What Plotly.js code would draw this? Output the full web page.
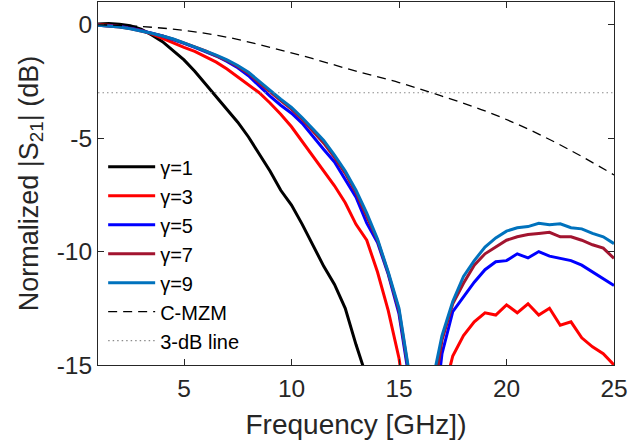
<!DOCTYPE html>
<html>
<head>
<meta charset="utf-8">
<script src="https://cdn.plot.ly/plotly-3.0.1.min.js"></script>
<style>html,body{margin:0;padding:0;background:#fff;}#chart{width:629px;height:442px;}</style>
</head>
<body>
<div id="chart"></div>
<script>
// Frequency grid (GHz)
const freq = [1,1.5,2,2.5,3,3.5,4,4.5,5,5.5,6,6.5,7,7.5,8,8.5,9,9.5,10,10.5,11,11.5,12,12.5,13,13.5,14,14.5,15,15.5,16,16.5,17,17.5,18,18.5,19,19.5,20,20.5,21,21.5,22,22.5,23,23.5,24,24.5,25];

// Normalized |S21| (dB) for each gamma
const g1 = [0.03,0.05,0.02,-0.05,-0.2,-0.45,-0.75,-1.15,-1.55,-2.05,-2.6,-3.15,-3.7,-4.3,-4.95,-5.7,-6.45,-7.3,-7.95,-8.8,-9.7,-10.65,-11.45,-12.5,-14.1,-15.6,-17,null,null,null,null,null,null,null,null,null,null,null,null,null,null,null,null,null,null,null,null,null,null];
const g3 = [0.0,-0.02,-0.08,-0.15,-0.25,-0.4,-0.6,-0.82,-1.0,-1.18,-1.4,-1.65,-1.95,-2.3,-2.68,-3.0,-3.45,-3.95,-4.5,-5.15,-5.8,-6.45,-7.1,-7.85,-8.8,-9.5,-10.9,-12.6,-14.7,-18,-25,-22,-16.5,-14.6,-13.7,-13.1,-12.7,-12.8,-12.35,-12.7,-12.3,-12.8,-12.5,-13.25,-13.1,-13.8,-14.2,-14.5,-15.0];
const g5 = [-0.02,-0.04,-0.08,-0.15,-0.25,-0.37,-0.5,-0.65,-0.82,-1.0,-1.18,-1.38,-1.62,-1.9,-2.25,-2.7,-3.15,-3.55,-3.9,-4.35,-4.95,-5.5,-6.05,-6.8,-7.6,-8.75,-9.6,-11.0,-12.75,-15.8,-24,-18.5,-14.5,-12.65,-12.0,-11.35,-10.8,-10.45,-10.4,-10.1,-10.28,-10.0,-10.2,-10.3,-10.4,-10.6,-10.9,-11.2,-11.5];
const g7 = [-0.02,-0.05,-0.1,-0.17,-0.27,-0.38,-0.5,-0.64,-0.8,-0.98,-1.16,-1.36,-1.58,-1.84,-2.15,-2.56,-2.97,-3.35,-3.72,-4.18,-4.7,-5.22,-5.85,-6.55,-7.4,-8.45,-9.5,-10.95,-12.6,-15.6,-24,-17.0,-13.9,-12.3,-11.4,-10.6,-10.1,-9.8,-9.5,-9.35,-9.25,-9.2,-9.15,-9.35,-9.35,-9.5,-9.7,-9.85,-10.3];
const g9 = [-0.03,-0.06,-0.1,-0.18,-0.27,-0.38,-0.5,-0.63,-0.8,-0.98,-1.15,-1.34,-1.55,-1.8,-2.1,-2.5,-2.9,-3.28,-3.65,-4.1,-4.6,-5.1,-5.75,-6.45,-7.3,-8.3,-9.45,-10.9,-12.5,-15.5,-24,-16.0,-13.7,-12.2,-11.1,-10.4,-9.8,-9.4,-9.1,-8.95,-8.9,-8.75,-8.82,-8.78,-8.95,-9.0,-9.2,-9.35,-9.65];

// Conventional MZM response
const mzmFreq = [1,3,5,7,9,11,13,15,17,19,21,23,25];
const mzm = [0,-0.08,-0.25,-0.55,-1.0,-1.5,-2.05,-2.55,-3.15,-3.8,-4.6,-5.55,-6.62];

// 3-dB reference line
const refFreq = [1,25];
const refLine = [-3,-3];

const names = ['γ=1','γ=3','γ=5','γ=7','γ=9','C-MZM','3-dB line'];
const colors = ['#000000','#FF0000','#0000FF','#A2142F','#0072BD','#000000','#8c8c8c'];

const xTickVals = [5,10,15,20,25];
const yTickVals = [0,-5,-10,-15];
const yTickText = ['0','-5','-10','-15'];

const FONT = 'Liberation Sans, Arial, Helvetica, sans-serif';
const series = [g1,g3,g5,g7,g9];
const traces = series.map((s,i)=>({
  x: freq, y: s, type:'scatter', mode:'lines', name: names[i],
  line:{color:colors[i], width:3}
}));
traces.push({x:mzmFreq, y:mzm, type:'scatter', mode:'lines', name:names[5],
  line:{color:colors[5], width:1.3, dash:'9px,6px', shape:'spline'}});
traces.push({x:refFreq, y:refLine, type:'scatter', mode:'lines', name:names[6],
  line:{color:colors[6], width:1.2, dash:'1.5px,3px'}});

const layout = {
  width:629, height:442,
  margin:{l:98, r:15, t:2, b:77, pad:0},
  paper_bgcolor:'#fff', plot_bgcolor:'#fff',
  font:{family:FONT, color:'#262626', size:24},
  showlegend:true,
  legend:{x:0.01, y:0.6, xanchor:'left', yanchor:'top', bgcolor:'rgba(0,0,0,0)',
    borderwidth:0, font:{family:FONT, size:20, color:'#000'}, itemwidth:47, tracegroupgap:0},
  xaxis:{range:[1,25], tickvals:xTickVals, ticks:'inside', ticklen:6, tickwidth:1, tickcolor:'#262626',
    showline:true, linecolor:'#262626', linewidth:1, mirror:'ticks', showgrid:false, zeroline:false,
    tickfont:{size:24.5, color:'#262626'}, ticklabelstandoff:2,
    title:{text:'Frequency [GHz])', font:{size:28, color:'#262626'}, standoff:12}},
  yaxis:{range:[-15,1], tickvals:yTickVals, ticktext:yTickText, ticks:'inside', ticklen:6, tickwidth:1, tickcolor:'#262626',
    showline:true, linecolor:'#262626', linewidth:1, mirror:'ticks', showgrid:false, zeroline:false,
    tickfont:{size:24.5, color:'#262626'},
    title:{text:'Normalized |S<sub>21</sub>| (dB)', font:{size:27, color:'#262626'}, standoff:10}}
};
Plotly.newPlot('chart', traces, layout, {displayModeBar:false, staticPlot:true}).then(gd=>{
  // lengthen the legend line samples like the reference
  gd.querySelectorAll('.legendlines path').forEach(p=>p.setAttribute('d','M5,0h47'));
});
</script>
</body>
</html>
